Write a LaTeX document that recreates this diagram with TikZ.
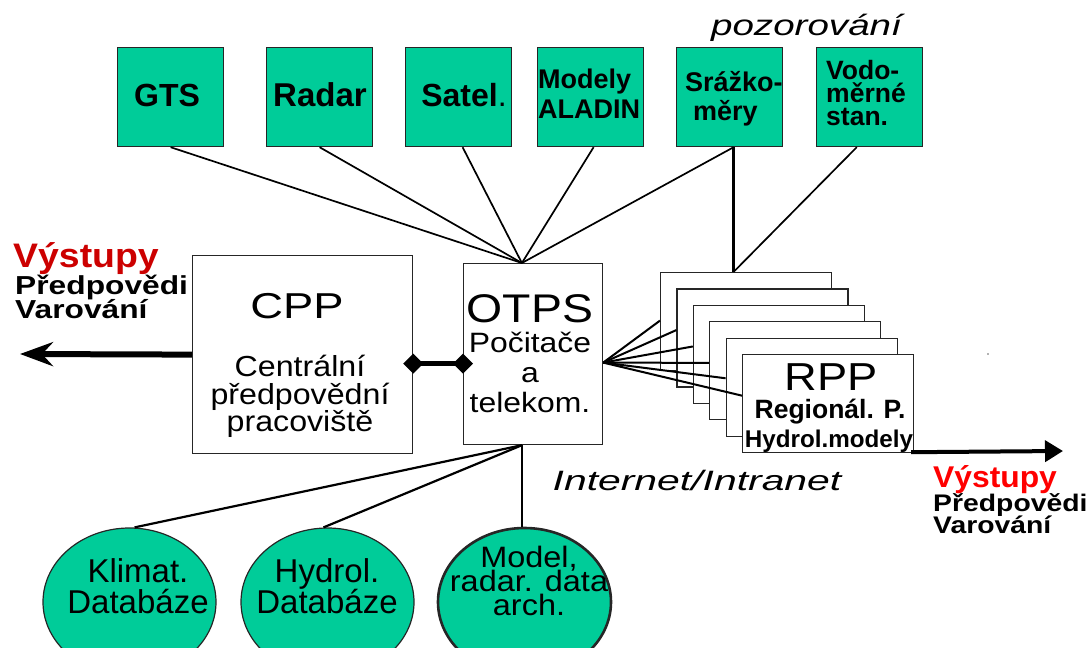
\documentclass[tikz,border=0pt]{standalone}
\usepackage{fontspec}
\setmainfont{Liberation Sans}
\usetikzlibrary{arrows.meta,shapes.geometric,calc}
\definecolor{srcgreen}{HTML}{00CC99}
\definecolor{outred}{HTML}{CC0000}
\definecolor{outredb}{HTML}{FF0000}
\newcommand{\setfs}[2]{\fontsize{#1}{#2}\selectfont\lineskiplimit=-100pt\relax}
\begin{document}
\begin{tikzpicture}[x=1pt,y=-1pt,
  src/.style={draw=black!85, line width=1.2pt, fill=srcgreen, minimum width=106pt, minimum height=99pt, inner sep=0pt, anchor=north west},
  plain/.style={draw=black!85, line width=1.2pt, fill=white, inner sep=0pt, anchor=north west},
  db/.style={ellipse, draw=black!85, line width=1.2pt, fill=srcgreen, inner sep=0pt, minimum width=173pt, minimum height=148pt},
  link/.style={line width=1.7pt},
  txt/.style={inner sep=0pt}]
\useasboundingbox (0,0) rectangle (1090,648);
\clip (0,0) rectangle (1090,648);

% source boxes
\node[src] (gts) at (117,47) {};
\node[src] (radar) at (266,47) {};
\node[src] (satel) at (405,47) {};
\node[src] (aladin) at (537,47) {};
\node[src] (srazko) at (676,47) {};
\node[src] (vodo) at (816,47) {};

% main boxes
\node[plain, minimum width=220pt, minimum height=198pt] (cpp) at (192,255) {};
\node[plain, minimum width=139pt, minimum height=181pt] (otps) at (463,263) {};
\foreach \i in {0,...,5}
  \node[plain, minimum width=171pt, minimum height=98pt] (rpp\i) at (660+16.4*\i,272+16.4*\i) {};

% databases
\node[db] (klimat) at (129.5,602) {};
\node[db] (hydrol) at (327.5,602) {};
\node[db, line width=2.6pt] (model) at (524.5,602) {};

% helper coordinates
\coordinate (otpsT) at ($(otps.north west)!0.42!(otps.north east)$);
\coordinate (otpsB) at ($(otps.south west)!0.42!(otps.south east)$);
\coordinate (otpsR) at ($(otps.east)+(0,8.5)$);
\coordinate (rppT) at ($(rpp0.north west)!0.427!(rpp0.north east)$);
\coordinate (outL) at (20,354);
\coordinate (outR) at (1063,451);

% connectors top
\draw[link] (gts.south) -- (otpsT);
\draw[link] (radar.south) -- (otpsT);
\draw[link] ([xshift=4pt]satel.south) -- (otpsT);
\draw[link] ([xshift=3pt]aladin.south) -- (otpsT);
\draw[link] ([xshift=4pt]srazko.south) -- (otpsT);
\draw[line width=2.6pt] (rppT |- srazko.south) -- (rppT);
\draw[link] ($(vodo.south west)!0.38!(vodo.south east)$) -- (rppT);

% connectors bottom
\draw[line width=2.2pt] (otpsB) -- ([xshift=5pt]klimat.north);
\draw[line width=2.2pt] (otpsB) -- ([xshift=-4pt]hydrol.north);
\draw[line width=2.6pt] (otpsB) -- (otpsB |- model.north);

% fan to regional offices
\foreach \i/\f in {0/0.49,1/0.42,2/0.42,3/0.42,4/0.41,5/0.42}
  \draw[line width=2pt] (otpsR) -- ($(rpp\i.north west)!\f!(rpp\i.south west)$);

% CPP - OTPS link
\draw[line width=5pt, {Diamond[length=20pt,width=20pt]}-{Diamond[length=20pt,width=20pt]}, shorten <=-10pt, shorten >=-10pt]
  ([yshift=-9pt]cpp.east) -- ([yshift=-9.5pt]otps.west);

% output arrows
\draw[line width=6pt, -{Stealth[length=33pt,width=24pt,inset=11pt]}] (cpp.west) -- (outL);
\draw[line width=4pt, -{Triangle[length=18pt,width=21pt]}] ([xshift=-3pt,yshift=1pt]rpp5.south east) -- (outR);

% texts in source boxes
\node[txt, font=\bfseries\setfs{32}{36}] (tgts) at (167,95) {GTS};
\node[txt, font=\bfseries\setfs{33}{36}] (tradar) at (320,95) {Radar};
\node[txt, font=\bfseries\setfs{32}{36}] (tsatel) at (464,95) {Satel\mdseries.};
\node[txt, align=left, anchor=west, font=\bfseries\setfs{27}{30}] (taladin) at (538,93.4) {Modely\\ALADIN};
\node[txt, align=left, anchor=west, font=\bfseries\setfs{27}{29}] (tsrazko) at (685,98.3) {Srážko-\\\hspace*{8pt}měry};
\node[txt, align=left, anchor=west, font=\bfseries\setfs{26.5}{23}] (tvodo) at (826,93) {Vodo-\\měrné\\stan.};
\node[txt, anchor=base, xscale=1.33, font=\itshape\setfs{29}{32}] (tpoz) at (806.5,35) {pozorování};

% texts in main boxes
\node[txt, anchor=base, xscale=1.26, font=\setfs{36}{40}] (tcpp) at (297,318) {CPP};
\node[txt, align=center, xscale=1.11, font=\setfs{29}{27.5}] (tcppsub) at (300,396.5) {Centrální\\předpovědní\\pracoviště};
\node[txt, anchor=base, xscale=1.16, font=\setfs{40}{44}] (totps) at (530,322) {OTPS};
\node[txt, align=center, xscale=1.14, font=\setfs{28}{30}] (totpssub) at (530,372.7) {Počitače\\a\\telekom.};
\node[txt, anchor=base, xscale=1.16, font=\setfs{39}{42}] (trpp) at (831.5,390) {RPP};
\node[txt, anchor=base, font=\bfseries\setfs{26.5}{30}] (treg) at (830,418) {Regionál. P.};
\node[txt, anchor=base, font=\bfseries\setfs{24.2}{28}] (thm) at (829,447) {Hydrol.modely};
\node[txt, anchor=base, xscale=1.46, font=\itshape\setfs{28}{32}] (tnet) at (697,490) {Internet/Intranet};

% outputs
\node[txt, anchor=base west, xscale=1.1, text=outred, font=\bfseries\setfs{34}{38}] (tvl) at (13,267) {Výstupy};
\node[txt, anchor=west, align=left, xscale=1.22, font=\bfseries\setfs{26}{24}] (tpl) at (15,297.4) {Předpovědi\\Varování};
\node[txt, anchor=base west, xscale=1.06, text=outredb, font=\bfseries\setfs{30}{34}] (tvr) at (933,487) {Výstupy};
\node[txt, anchor=west, align=left, xscale=1.18, font=\bfseries\setfs{24}{21.6}] (tpr) at (933,513.6) {Předpovědi\\Varování};

% database texts
\node[txt, align=center, font=\setfs{33}{31}] (tklimat) at (138,585.7) {Klimat.\\Databáze};
\node[txt, align=center, font=\setfs{33}{31}] (thydrol) at (327,585.7) {Hydrol.\\Databáze};
\node[txt, align=center, xscale=1.1, font=\setfs{29.5}{24}] (tmodel) at (529,580.5) {Model,\\radar. data\\arch.};

% stray dot
\fill[black!60] (988,354) circle (0.8pt);
\end{tikzpicture}
\end{document}
